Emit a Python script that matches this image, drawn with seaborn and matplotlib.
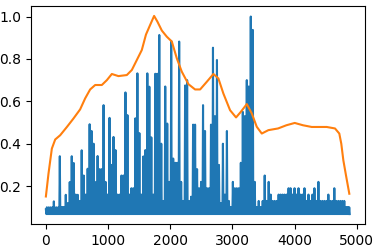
import numpy as np
import pandas as pd
import matplotlib
matplotlib.use("Agg")
import matplotlib.pyplot as plt
import seaborn as sns

# Blue signal: local maxima read every 32 samples, plus the floor and the dense low band
blue_peaks = [
    0.09, 0.09, 0.09, 0.09, 0.128, 0.09, 0.09, 0.341, 0.10, 0.10,
    0.159, 0.12, 0.219, 0.341, 0.309, 0.16, 0.159, 0.13, 0.369, 0.25,
    0.16, 0.282, 0.492, 0.46, 0.40, 0.219, 0.342, 0.28, 0.28, 0.582,
    0.22, 0.16, 0.522, 0.30, 0.432, 0.37, 0.16, 0.16, 0.25, 0.25,
    0.642, 0.535, 0.16, 0.19, 0.19, 0.52, 0.732, 0.45, 0.16, 0.34,
    0.37, 0.732, 0.669, 0.43, 0.16, 0.73, 0.73, 0.913, 0.40, 0.13,
    0.67, 0.495, 0.22, 0.885, 0.33, 0.31, 0.31, 0.882, 0.22, 0.13,
    0.675, 0.70, 0.13, 0.15, 0.49, 0.49, 0.28, 0.19, 0.22, 0.582,
    0.46, 0.19, 0.19, 0.49, 0.853, 0.53, 0.795, 0.30, 0.12, 0.40,
    0.16, 0.46, 0.13, 0.10, 0.22, 0.19, 0.19, 0.19, 0.31, 0.55,
    0.53, 0.70, 0.67, 1.0, 0.937, 0.22, 0.10, 0.13, 0.10, 0.13,
    0.25, 0.13, 0.22, 0.16, 0.13, 0.13, 0.13, 0.16, 0.16, 0.16,
    0.16, 0.16, 0.19, 0.19, 0.16, 0.19, 0.16, 0.19, 0.16, 0.16,
    0.19, 0.13, 0.16, 0.13, 0.16, 0.19, 0.13, 0.22, 0.13, 0.13,
    0.13, 0.13, 0.16, 0.13, 0.13, 0.19, 0.13, 0.13, 0.13, 0.13,
    0.13, 0.10, 0.10,
]
blue_floor = 0.068
blue_band = 0.10
sample_step = 8

# Orange smooth curve
orange_x = [0, 42, 96, 150, 230, 338, 444, 551, 632, 712,
            793, 900, 981, 1061, 1167, 1302, 1383, 1463, 1543, 1610,
            1678, 1741, 1794, 1865, 1945, 2026, 2106, 2186, 2293, 2400,
            2481, 2588, 2695, 2775, 2855, 2963, 3059, 3135, 3232, 3312,
            3392, 3473, 3579, 3735, 3868, 4003, 4137, 4277, 4518, 4651,
            4720, 4752, 4785, 4828, 4881]
orange_y = [0.151, 0.259, 0.377, 0.420, 0.440, 0.479, 0.519, 0.562, 0.614, 0.656,
            0.677, 0.677, 0.700, 0.729, 0.719, 0.724, 0.748, 0.795, 0.842, 0.915,
            0.961, 1.003, 0.976, 0.934, 0.905, 0.882, 0.803, 0.740, 0.681, 0.656,
            0.656, 0.692, 0.729, 0.708, 0.637, 0.558, 0.524, 0.550, 0.587, 0.543,
            0.480, 0.448, 0.464, 0.472, 0.487, 0.498, 0.487, 0.479, 0.479, 0.472,
            0.448, 0.400, 0.322, 0.250, 0.164]

# build blue series: peak, floor, band, floor, next peak ...
blue_vals = []
for p in blue_peaks:
    blue_vals.extend([p, blue_floor, blue_band, blue_floor])
blue_df = pd.DataFrame({"x": np.arange(len(blue_vals)) * sample_step, "y": blue_vals})
orange_df = pd.DataFrame({"x": orange_x, "y": orange_y})

fig = plt.figure(figsize=(3.77, 2.48), dpi=100)
ax = fig.add_axes([0.0814, 0.0968, 0.8866, 0.8790])
sns.lineplot(data=blue_df, x="x", y="y", ax=ax, color="#1f77b4", linewidth=1.5,
             sort=False, estimator=None)
sns.lineplot(data=orange_df, x="x", y="y", ax=ax, color="#ff7f0e", linewidth=1.5,
             sort=False, estimator=None)
ax.set_xlabel("")
ax.set_ylabel("")
ax.set_xticks([0, 1000, 2000, 3000, 4000, 5000])
ax.set_yticks([0.2, 0.4, 0.6, 0.8, 1.0])
ax.tick_params(labelsize=10)
fig.savefig("out.png", dpi=100)
